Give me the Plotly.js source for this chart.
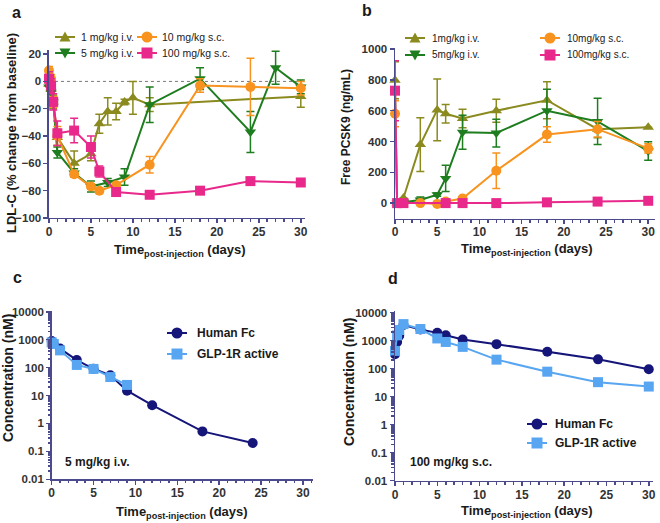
<!DOCTYPE html>
<html>
<head>
<meta charset="utf-8">
<script src="https://cdn.plot.ly/plotly-3.0.1.min.js"></script>
<style>body{margin:0;background:#fff}</style>
</head>
<body>
<div id="chart" style="width:660px;height:523px"></div>
<script>
// panel a - LDL-C % change from baseline
var a1_t = [0, 0.25, 0.5, 1, 3, 5, 6, 7, 8, 9, 10, 12, 30];
var a1_v = [-2, -6, -15, -41, -60, -53, -31, -22, -22, -15, -12, -17, -11];
var a1_e = [5, 4, 5, 6, 9, 5, 7, 10, 6, 2, 12, 5, 8];
var a5_t = [0, 0.25, 0.5, 1, 3, 5, 7, 9, 12, 18, 24, 27, 30];
var a5_v = [-4, -8, -15, -52, -67, -77, -74, -70, -17, 2, -37, 10, -4];
var a5_e = [5, 4, 4, 4, 3, 4, 3, 6, 13, 8, 15, 12, 5];
var a10_t = [0, 0.1, 0.25, 0.5, 1, 3, 5, 6, 8, 12, 18, 24, 30];
var a10_v = [8, 0, 2, -15, -40, -68, -77, -80, -76, -61, -3, -4, -5];
var a10_e = [3, 3, 3, 4, 7, 2, 2, 2, 2, 6, 5, 21, 5];
var a100_t = [0, 0.25, 0.5, 1, 3, 5, 6, 8, 12, 18, 24, 30];
var a100_v = [2, -3, -15, -38, -36, -48, -66, -81, -83, -80, -73, -74];
var a100_e = [5, 5, 6, 9, 9, 8, 4, 2, 2, 2, 2, 2];

// panel b - free PCSK9
var b1_t = [0, 0.25, 1, 3, 5, 6, 8, 12, 18, 24, 30];
var b1_v = [797, 0, 33, 380, 605, 580, 550, 600, 668, 480, 492];
var b1_e = [120, 0, 0, 175, 200, 60, 60, 75, 120, 55, 0];
var b5_t = [0.25, 1, 3, 5, 6, 8, 12, 18, 24, 30];
var b5_v = [0, 5, 20, 55, 160, 460, 455, 600, 530, 338];
var b5_e = [0, 10, 20, 10, 85, 110, 90, 140, 150, 60];
var b10_t = [0, 0.25, 1, 3, 5, 6, 8, 12, 18, 24, 30];
var b10_v = [580, 0, 0, 0, -5, 10, 30, 210, 445, 480, 355];
var b10_e = [85, 0, 0, 0, 0, 5, 10, 115, 50, 50, 30];
var b100_t = [0, 0.25, 1, 6, 8, 12, 18, 24, 30];
var b100_v = [730, 0, 0, 0, 0, 0, 5, 10, 15];
var b100_e = [195, 0, 0, 0, 0, 0, 0, 0, 0];

// panel c - 5 mg/kg i.v. PK
var c_fc_t = [0, 0.25, 1, 3, 5, 7, 9, 12, 18, 24];
var c_fc_v = [900, 700, 480, 186, 91, 53, 15, 4.5, 0.52, 0.2];
var c_glp_t = [0, 0.25, 1, 3, 5, 7, 9];
var c_glp_v = [800, 700, 415, 125, 90, 46, 24];

// panel d - 100 mg/kg s.c. PK
var d_fc_t = [0, 0.25, 0.5, 1, 3, 5, 6, 8, 12, 18, 24, 30];
var d_fc_v = [330, 900, 1500, 3600, 2500, 1900, 1550, 1100, 750, 400, 215, 95];
var d_glp_t = [0, 0.25, 0.5, 1, 3, 5, 6, 8, 12, 18, 24, 30];
var d_glp_v = [430, 1550, 2400, 3900, 2600, 1200, 900, 600, 210, 78, 33, 23];

var logTicks = [0.01, 0.1, 1, 10, 100, 1000, 10000];
var logText = ['0.01', '0.1', '1', '10', '100', '1000', '10000'];

var cOlive = '#8a8a1e', cGreen = '#1e7d1e', cOrange = '#f7931e', cPink = '#e8288a';
var cNavy = '#15157a', cLight = '#58a6f2';
var axisCol = '#4a4a8c';
var FONT = 'Liberation Sans, Arial, sans-serif';

function px(x) { return x / 660; }
function py(y) { return 1 - y / 523; }

function tr(name, x, y, e, color, symbol, xa, ya) {
  var t = {
    name: name, x: x, y: y, mode: 'lines+markers', type: 'scatter',
    xaxis: xa, yaxis: ya, cliponaxis: false, showlegend: false,
    line: {color: color, width: 2},
    marker: {color: color, symbol: symbol, size: 10}
  };
  if (e) t.error_y = {type: 'data', array: e, visible: true, color: color, thickness: 1.5, width: 4};
  return t;
}

var data = [
  tr('1 mg/kg i.v.', a1_t, a1_v, a1_e, cOlive, 'triangle-up', 'x', 'y'),
  tr('5 mg/kg i.v.', a5_t, a5_v, a5_e, cGreen, 'triangle-down', 'x', 'y'),
  tr('10 mg/kg s.c.', a10_t, a10_v, a10_e, cOrange, 'circle', 'x', 'y'),
  tr('100 mg/kg s.c.', a100_t, a100_v, a100_e, cPink, 'square', 'x', 'y'),
  tr('1mg/kg i.v.', b1_t, b1_v, b1_e, cOlive, 'triangle-up', 'x2', 'y2'),
  tr('5mg/kg i.v.', b5_t, b5_v, b5_e, cGreen, 'triangle-down', 'x2', 'y2'),
  tr('10mg/kg s.c.', b10_t, b10_v, b10_e, cOrange, 'circle', 'x2', 'y2'),
  tr('100mg/kg s.c.', b100_t, b100_v, b100_e, cPink, 'square', 'x2', 'y2'),
  tr('Human Fc', c_fc_t, c_fc_v, null, cNavy, 'circle', 'x3', 'y3'),
  tr('GLP-1R active', c_glp_t, c_glp_v, null, cLight, 'square', 'x3', 'y3'),
  tr('Human Fc', d_fc_t, d_fc_v, null, cNavy, 'circle', 'x4', 'y4'),
  tr('GLP-1R active', d_glp_t, d_glp_v, null, cLight, 'square', 'x4', 'y4')
];

function xax(dom, rng, anchor) {
  return {
    domain: dom, range: rng, anchor: anchor,
    showline: true, linecolor: axisCol, linewidth: 1.5, showgrid: false, zeroline: false,
    ticks: 'outside', tickcolor: axisCol, ticklen: 4, tickwidth: 1.5, dtick: 5, tick0: 0,
    ticklabelstandoff: -2,
    minor: {ticks: 'outside', dtick: 1, ticklen: 2.5, tickcolor: axisCol},
    tickfont: {family: FONT, size: 12, color: '#333', weight: 'bold'}
  };
}
function yax(dom, rng, anchor, extra) {
  var a = {
    domain: dom, range: rng, anchor: anchor,
    showline: true, linecolor: axisCol, linewidth: 1.5, showgrid: false, zeroline: false,
    ticks: 'outside', tickcolor: axisCol, ticklen: 4, tickwidth: 1.5,
    tickfont: {family: FONT, size: 11.5, color: '#333', weight: 'bold'}
  };
  for (var k in extra) a[k] = extra[k];
  return a;
}

var shapes = [
  {type: 'line', xref: 'x', yref: 'y', x0: 0, x1: 30, y0: 0, y1: 0,
   line: {color: '#777', width: 1, dash: 'dot'}, layer: 'below'}
];
var annotations = [];

function txt(s, x, y, size, extra) {
  var a = {text: s, x: px(x), y: py(y), xref: 'paper', yref: 'paper', showarrow: false,
    xanchor: 'center', yanchor: 'middle', font: {family: FONT, size: size, color: '#1a1a1a'}};
  for (var k in extra) a[k] = extra[k];
  annotations.push(a);
}

// legend icon: short line + marker, then label
function legItem(label, cx, cy, tx, color, symbol, size, bold) {
  shapes.push({type: 'line', xref: 'paper', yref: 'paper', x0: px(cx - 10), x1: px(cx + 10),
    y0: py(cy), y1: py(cy), line: {color: color, width: 2}});
  var r = 5.5;
  if (symbol === 'circle') {
    shapes.push({type: 'circle', xref: 'paper', yref: 'paper', x0: px(cx - r), x1: px(cx + r),
      y0: py(cy + r), y1: py(cy - r), fillcolor: color, line: {width: 0}});
  } else if (symbol === 'square') {
    shapes.push({type: 'rect', xref: 'paper', yref: 'paper', x0: px(cx - r), x1: px(cx + r),
      y0: py(cy + r), y1: py(cy - r), fillcolor: color, line: {width: 0}});
  } else {
    var s = symbol === 'triangle-up' ? 1 : -1;
    var p = 'M' + px(cx - r) + ',' + py(cy + s * 4.5) + ' L' + px(cx + r) + ',' + py(cy + s * 4.5) +
      ' L' + px(cx) + ',' + py(cy - s * 5.5) + ' Z';
    shapes.push({type: 'path', xref: 'paper', yref: 'paper', path: p, fillcolor: color, line: {width: 0}});
  }
  txt(bold ? '<b>' + label + '</b>' : label, tx, cy, size, {xanchor: 'left'});
}

legItem('1 mg/kg i.v.', 65, 37, 79, cOlive, 'triangle-up', 10.5, false);
legItem('5 mg/kg i.v.', 65, 53, 79, cGreen, 'triangle-down', 10.5, false);
legItem('10 mg/kg s.c.', 147, 37, 160, cOrange, 'circle', 10.5, false);
legItem('100 mg/kg s.c.', 147, 53, 160, cPink, 'square', 10.5, false);
legItem('1mg/kg i.v.', 415, 38, 430, cOlive, 'triangle-up', 10, false);
legItem('5mg/kg i.v.', 415, 55, 430, cGreen, 'triangle-down', 10, false);
legItem('10mg/kg s.c.', 550, 38, 565, cOrange, 'circle', 10, false);
legItem('100mg/kg s.c.', 550, 55, 565, cPink, 'square', 10, false);
legItem('Human Fc', 177, 333, 195, cNavy, 'circle', 12, true);
legItem('GLP-1R active', 177, 354, 195, cLight, 'square', 12, true);
legItem('Human Fc', 537, 424, 553, cNavy, 'circle', 12, true);
legItem('GLP-1R active', 537, 443, 553, cLight, 'square', 12, true);

// panel letters
txt('<b>a</b>', 16, 12, 16);
txt('<b>b</b>', 367, 10, 16);
txt('<b>c</b>', 17, 277, 16);
txt('<b>d</b>', 393, 278, 16);

// axis titles
var timeTitle = '<b>Time<sub>post-injection</sub> (days)</b>';
txt(timeTitle, 180, 250, 13);
txt(timeTitle, 527, 249, 13);
txt(timeTitle, 182, 512, 13);
txt(timeTitle, 527, 511, 13);
txt('<b>LDL-C (% change from baseline)</b>', 12, 133, 13, {textangle: -90});
txt('<b>Free PCSK9 (ng/mL)</b>', 346, 127, 12, {textangle: -90});
txt('<b>Concentration (nM)</b>', 8, 378, 14, {textangle: -90});
txt('<b>Concentration (nM)</b>', 349, 382, 14, {textangle: -90});

// panel notes
txt('<b>5 mg/kg i.v.</b>', 63, 462, 12, {xanchor: 'left'});
txt('<b>100 mg/kg s.c.</b>', 408, 462, 12, {xanchor: 'left'});

var logExtra = {type: 'log', tickvals: logTicks, ticktext: logText,
  minor: {ticks: 'outside', ticklen: 2.5, tickcolor: axisCol, dtick: 'D1'}};

var layout = {
  width: 660, height: 523,
  margin: {l: 0, r: 0, t: 0, b: 0},
  paper_bgcolor: '#fff', plot_bgcolor: '#fff',
  font: {family: FONT},
  showlegend: false,
  xaxis: xax([0.0742, 0.4621], [0, 30.5], 'y'),
  yaxis: yax([0.5832, 0.9044], [-100, 23], 'x', {dtick: 20}),
  xaxis2: xax([0.5985, 0.9924], [0, 30.8], 'y2'),
  yaxis2: yax([0.5822, 0.9082], [-100, 1007], 'x2', {tickvals: [0, 200, 400, 600, 800, 1000]}),
  xaxis3: xax([0.0783, 0.4742], [0, 31.2], 'y3'),
  yaxis3: yax([0.0836, 0.4054], [-2, 4.03], 'x3', logExtra),
  xaxis4: xax([0.5985, 0.9894], [0, 30.5], 'y4'),
  yaxis4: yax([0.0809, 0.4054], [-2, 4.06], 'x4', logExtra),
  shapes: shapes,
  annotations: annotations
};

Plotly.newPlot('chart', data, layout, {displayModeBar: false, staticPlot: true});
</script>
</body>
</html>
